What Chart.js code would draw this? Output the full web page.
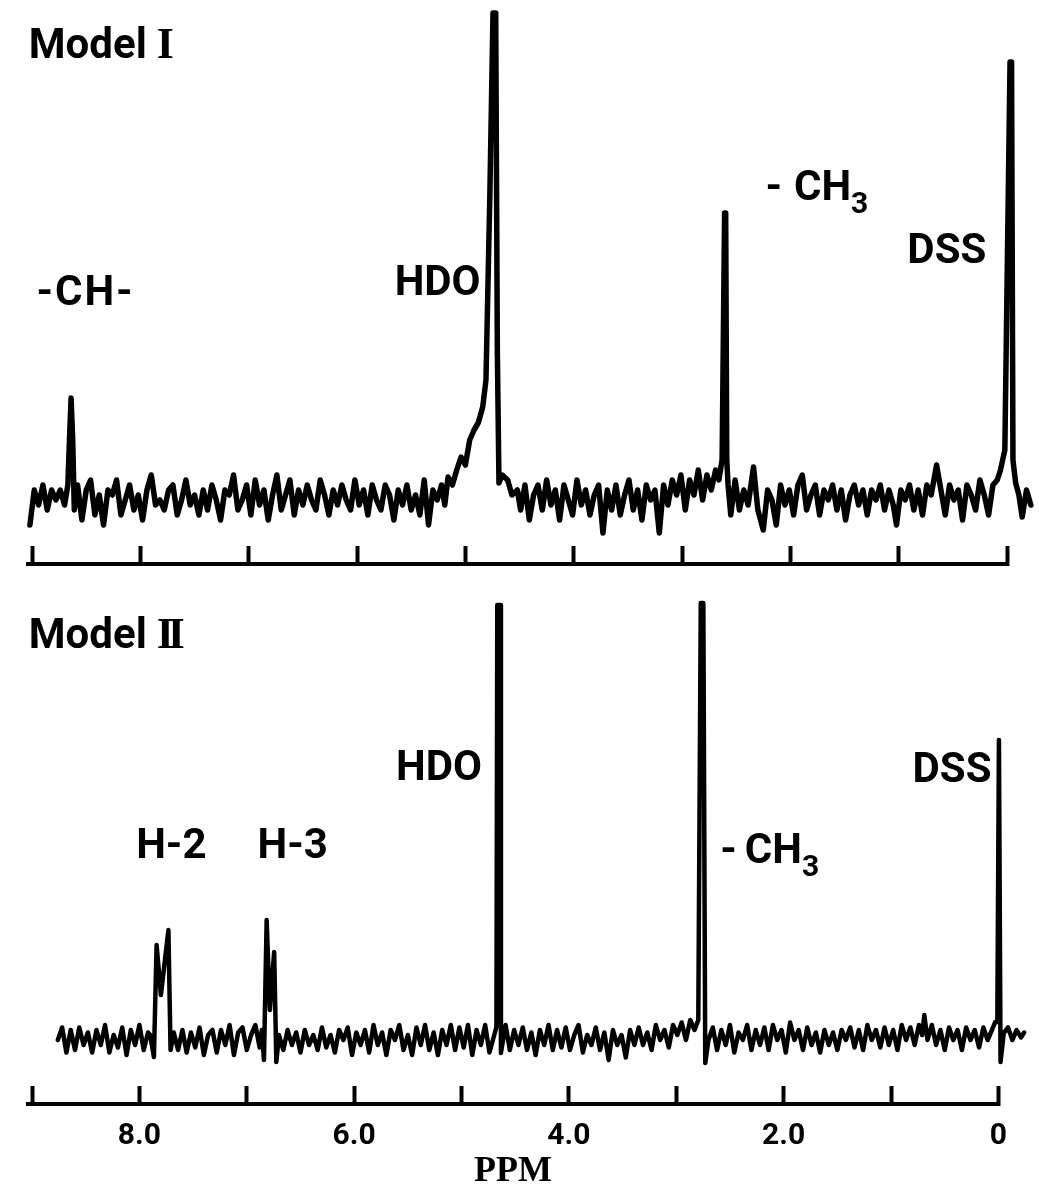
<!DOCTYPE html>
<html>
<head>
<meta charset="utf-8">
<script src="https://cdn.jsdelivr.net/npm/chart.js@4.4.1/dist/chart.umd.min.js"></script>
<style>
  html, body { margin: 0; padding: 0; background: #fff; }
  body { width: 1039px; height: 1191px; position: relative; overflow: hidden; }
  canvas { position: absolute; left: 0; }
  #modelI { top: 0; }
  #modelII { top: 590px; }
</style>
</head>
<body>
<canvas id="modelI" width="1039" height="604"></canvas>
<canvas id="modelII" width="1039" height="601"></canvas>
<script>
// 1H NMR traces in D2O: [chemical shift (ppm), relative intensity]
const spectrumModelI = [
  [9.02,-5],[8.98,2],[8.94,-1],[8.90,3],[8.86,-2],[8.82,2],[8.78,0],[8.74,2],[8.70,-1],[8.67,3],
  [8.655,12],[8.64,20.4],[8.625,12],[8.61,-2],[8.58,3],[8.54,-4],[8.50,2],[8.46,4],[8.42,-3],[8.38,1],
  [8.34,-5],[8.30,2],[8.26,1],[8.22,4],[8.18,-3],[8.14,0],[8.10,3],[8.06,-2],[8.02,1],[7.98,-4],
  [7.94,2],[7.90,5],[7.86,-1],[7.82,0],[7.78,-2],[7.74,2],[7.70,3],[7.66,-3],[7.62,0],[7.58,4],
  [7.54,-1],[7.50,1],[7.46,-3],[7.42,2],[7.38,-2],[7.34,3],[7.30,0],[7.26,-4],[7.22,2],[7.18,1],
  [7.14,5],[7.10,-2],[7.06,0],[7.02,3],[6.98,-3],[6.94,4],[6.90,-1],[6.86,2],[6.82,-4],[6.78,1],
  [6.74,5],[6.70,-2],[6.66,1],[6.62,4],[6.58,-3],[6.54,2],[6.50,-1],[6.46,3],[6.42,0],[6.38,-2],
  [6.34,4],[6.30,1],[6.26,-3],[6.22,2],[6.18,-1],[6.14,3],[6.10,0],[6.06,-2],[6.02,4],[5.98,-1],
  [5.94,2],[5.90,-3],[5.86,3],[5.82,0],[5.78,-2],[5.74,3],[5.70,1],[5.66,-4],[5.62,2],[5.58,-1],
  [5.54,3],[5.50,-2],[5.46,1],[5.42,-3],[5.38,4],[5.34,-5],[5.30,2],[5.26,0],[5.22,3],[5.19,-1],
  [5.16,4.6],[5.12,3],[5.08,6],[5.04,8.6],[5.00,7],[4.96,12],[4.92,14],[4.88,15.5],[4.84,18.6],[4.81,24],
  [4.775,60],[4.745,97.4],[4.72,97.4],[4.705,30],[4.69,3.4],[4.66,5],[4.61,4],[4.57,1],[4.52,2],[4.49,-2],
  [4.45,3],[4.41,-4],[4.37,1],[4.33,3],[4.29,-2],[4.25,4],[4.21,-1],[4.17,2],[4.13,-4],[4.09,3],
  [4.05,0],[4.01,-3],[3.97,4],[3.93,-1],[3.89,2],[3.85,-3],[3.81,1],[3.77,3],[3.73,-6.6],[3.69,2],
  [3.65,-2],[3.61,3],[3.57,-3],[3.53,1],[3.49,4],[3.45,-2],[3.41,2],[3.37,-4],[3.33,3],[3.29,0],
  [3.25,2],[3.21,-6.6],[3.17,3],[3.13,-1],[3.09,4],[3.05,1],[3.01,5],[2.97,-2],[2.93,4],[2.89,1],
  [2.85,6],[2.81,0],[2.77,5],[2.73,2],[2.69,6],[2.66,4],[2.63,8],[2.607,57.4],[2.597,57.4],[2.587,8],
  [2.575,3],[2.55,-3],[2.51,4],[2.47,-2],[2.43,2],[2.39,-1],[2.34,6.6],[2.30,-2],[2.25,-6],[2.21,2],
  [2.17,0],[2.13,-5],[2.09,3],[2.05,-1],[2.01,2],[1.97,-3],[1.93,3],[1.89,5],[1.85,-2],[1.81,1],
  [1.77,3],[1.73,-3],[1.69,2],[1.65,0],[1.61,3],[1.57,-2],[1.53,2],[1.49,-4],[1.45,1],[1.41,3],
  [1.37,-1],[1.33,2],[1.29,-3],[1.25,2],[1.21,0],[1.17,3],[1.13,-2],[1.09,2],[1.05,-1],[1.02,-5],
  [0.98,2],[0.94,0],[0.90,3],[0.86,-2],[0.82,2],[0.78,-3],[0.74,3],[0.70,1],[0.65,7],[0.61,2],
  [0.57,-3],[0.53,3],[0.49,0],[0.45,2],[0.41,-4],[0.37,3],[0.33,1],[0.29,-2],[0.25,4],[0.21,1],
  [0.17,-3],[0.13,3],[0.09,4],[0.06,6],[0.02,10],[-0.028,87.6],[-0.042,87.6],[-0.055,8],[-0.08,3.4],[-0.11,1],
  [-0.14,-3.4],[-0.18,2],[-0.22,-1]
];

const spectrumModelII = [
  [8.76,0],[8.72,2.5],[8.68,-2.5],[8.64,2],[8.60,-2],[8.56,2.5],[8.52,-1],[8.48,1.5],[8.44,-2.5],[8.40,2],
  [8.36,-1],[8.32,3],[8.28,-2.5],[8.24,1],[8.20,-1.5],[8.16,2.5],[8.12,-3],[8.08,2],[8.04,-1],[8.00,3],
  [7.96,-2],[7.92,1.5],[7.90,1],[7.865,-3.4],[7.84,19],[7.80,9],[7.73,22],[7.71,-2],[7.68,1.5],[7.64,-2],
  [7.60,2],[7.56,-2.5],[7.52,1.5],[7.48,-1.5],[7.44,2.5],[7.40,-3],[7.36,1],[7.32,2],[7.28,-2.5],[7.24,2],
  [7.20,-1],[7.16,3],[7.12,-3],[7.08,1.5],[7.04,2.5],[7.00,-2],[6.96,1],[6.92,3],[6.88,-1.5],[6.86,2],
  [6.84,-4],[6.815,24],[6.785,6],[6.745,17.6],[6.725,-4.4],[6.70,1],[6.66,-2],[6.62,2],[6.58,-1],[6.54,1.5],
  [6.50,-2.5],[6.46,2],[6.42,-1],[6.38,1],[6.34,-2],[6.30,2.5],[6.26,-1.5],[6.22,1],[6.18,-2.5],[6.14,2],
  [6.10,0],[6.06,2.5],[6.02,-3],[5.98,1.5],[5.94,-1],[5.90,2],[5.86,-2.5],[5.82,3],[5.78,-1],[5.74,1.5],
  [5.70,-3],[5.66,2],[5.62,0],[5.58,3],[5.54,-2],[5.50,1],[5.46,-3],[5.42,2.5],[5.38,-1],[5.34,3],
  [5.30,-2],[5.26,1.5],[5.22,-3],[5.18,2],[5.14,-1],[5.10,3],[5.06,-2],[5.02,2.5],[4.98,-1.5],[4.94,3],
  [4.90,-3],[4.86,2],[4.82,-1],[4.78,3],[4.74,-2.5],[4.675,2.6],[4.667,87],[4.64,87],[4.633,-2.6],[4.59,3],
  [4.55,-2],[4.51,2],[4.47,-1],[4.43,2.5],[4.39,-2],[4.35,1.5],[4.31,-3],[4.27,2],[4.23,-1],[4.19,3],
  [4.15,-2],[4.11,2],[4.07,-1.5],[4.03,2.5],[3.99,-2],[3.95,1],[3.91,3],[3.87,-2.5],[3.83,1],[3.79,-1],
  [3.75,2.5],[3.71,-2],[3.67,1.5],[3.63,-4],[3.59,2],[3.55,-1],[3.51,1],[3.47,-3.5],[3.43,2],[3.39,-1],
  [3.35,2.5],[3.31,-1],[3.27,1.5],[3.23,-2],[3.19,3],[3.15,0],[3.11,2],[3.07,-1.5],[3.03,3],[2.99,1],
  [2.95,3.5],[2.91,0],[2.87,4],[2.83,2],[2.795,4],[2.772,87.4],[2.748,87.4],[2.73,-4.6],[2.70,0],[2.66,2.5],
  [2.62,-2],[2.58,2],[2.54,-1],[2.50,3],[2.46,-2.5],[2.42,1.5],[2.38,0],[2.34,3],[2.30,-2],[2.26,2],
  [2.22,-1],[2.18,2.5],[2.14,-2],[2.10,3],[2.06,0],[2.02,2],[1.98,-2.5],[1.94,3.5],[1.90,0],[1.86,2],
  [1.82,-2],[1.78,2.5],[1.74,-1],[1.70,1.5],[1.66,-2.5],[1.62,2],[1.58,-1],[1.54,1.5],[1.50,-2],[1.46,2],
  [1.42,0],[1.38,2.5],[1.34,-1.5],[1.30,2],[1.26,-2],[1.22,3],[1.18,0],[1.14,2],[1.10,-1.5],[1.06,2.5],
  [1.02,-1],[0.98,2],[0.94,-2],[0.90,3],[0.86,0],[0.82,2.5],[0.78,-1],[0.74,3],[0.71,1],[0.69,5],
  [0.66,0],[0.62,3],[0.58,-1],[0.54,2],[0.50,-2],[0.46,2.5],[0.42,0],[0.38,2],[0.34,-2],[0.30,2.5],
  [0.26,0],[0.22,2],[0.18,-1.5],[0.14,2.5],[0.10,0],[0.06,2],[0.03,3.6],[0.01,3.6],[-0.005,60],[-0.02,-4.4],
  [-0.05,1.4],[-0.09,2.5],[-0.13,0],[-0.17,2],[-0.21,0.5],[-0.24,1.5]
];

// ppm scale: a tick every 1 ppm, labelled every 2 ppm on the lower trace
const tickValues = [9, 8, 7, 6, 5, 4, 3, 2, 1, 0];
const tickLabelsModelII = ['', '8.0', '', '6.0', '', '4.0', '', '2.0', '', '0'];
const axisTitle = 'PPM';

const SANS = 'bold 42px Roboto, "Open Sans", sans-serif';
const SANS_SUB = 'bold 30px Roboto, "Open Sans", sans-serif';
const SERIF = 'bold 44px "Liberation Serif", "DejaVu Serif", serif';

// Peak assignments, anchored in (ppm, intensity) units
const annotationsModelI = [
  { ppm: 9.03, level: 88.4, parts: [{ text: 'Model', font: SANS, dx: 10 }, { text: 'I', font: SERIF }] },
  { ppm: 8.96, level: 39, parts: [{ text: '-CH-', font: SANS, spacing: '2px' }] },
  { ppm: 4.86, level: 41, align: 'right', parts: [{ text: 'HDO', font: SANS }] },
  { ppm: 2.23, level: 60, parts: [{ text: '-', font: SANS, dx: 12 }, { text: 'CH', font: SANS }, { text: '3', font: SANS_SUB, dy: 13 }] },
  { ppm: 0.92, level: 47.4, parts: [{ text: 'DSS', font: SANS }] }
];
const annotationsModelII = [
  { ppm: 9.03, level: 78.4, parts: [{ text: 'Model', font: SANS, dx: 10 }, { text: 'II', font: SERIF, spacing: '-6px' }] },
  { ppm: 4.81, level: 52, align: 'right', parts: [{ text: 'HDO', font: SANS }] },
  { ppm: 8.03, level: 36.4, parts: [{ text: 'H-2', font: SANS }] },
  { ppm: 6.90, level: 36.4, parts: [{ text: 'H-3', font: SANS }] },
  { ppm: 2.59, level: 35.4, parts: [{ text: '-', font: SANS, dx: 8 }, { text: 'CH', font: SANS }, { text: '3', font: SANS_SUB, dy: 13 }] },
  { ppm: 0.80, level: 51.6, parts: [{ text: 'DSS', font: SANS }] }
];

const peakLabels = {
  id: 'peakLabels',
  afterDatasetsDraw(chart, args, opts) {
    const { ctx } = chart;
    const x = chart.scales.x, y = chart.scales.y;
    ctx.save();
    ctx.fillStyle = '#000';
    ctx.textBaseline = 'alphabetic';
    ctx.textAlign = 'left';
    for (const item of opts.items) {
      let px = x.getPixelForValue(item.ppm);
      const py = y.getPixelForValue(item.level);
      if (item.align === 'right') {
        let w = 0;
        for (const p of item.parts) {
          ctx.font = p.font;
          ctx.letterSpacing = p.spacing || '0px';
          w += ctx.measureText(p.text).width + (p.dx || 0);
        }
        px -= w;
      }
      for (const p of item.parts) {
        ctx.font = p.font;
        ctx.letterSpacing = p.spacing || '0px';
        ctx.fillText(p.text, px, py + (p.dy || 0));
        px += ctx.measureText(p.text).width + (p.dx || 0);
      }
    }
    ctx.letterSpacing = '0px';
    ctx.restore();
  }
};

function buildSpectrum(canvasId, spectrum, opts) {
  return new Chart(document.getElementById(canvasId), {
    type: 'line',
    data: {
      datasets: [{
        data: spectrum.map(([ppm, v]) => ({ x: ppm, y: v })),
        borderColor: '#000',
        borderWidth: opts.lineWidth,
        borderJoinStyle: 'round',
        borderCapStyle: 'round',
        pointRadius: 0,
        tension: 0,
        clip: false
      }]
    },
    options: {
      responsive: false,
      animation: false,
      events: [],
      layout: { padding: opts.padding },
      plugins: {
        legend: { display: false },
        tooltip: { enabled: false },
        peakLabels: { items: opts.annotations }
      },
      scales: {
        x: {
          type: 'linear',
          min: 0,
          max: 9.04,
          reverse: true,
          afterBuildTicks: s => { s.ticks = tickValues.map(v => ({ value: v })); },
          afterFit: s => { s.height = opts.axisHeight; },
          border: { display: true, color: '#000', width: 4 },
          grid: {
            drawOnChartArea: false,
            drawTicks: true,
            tickLength: -18,
            tickWidth: 4,
            tickColor: '#000'
          },
          ticks: {
            autoSkip: false,
            maxRotation: 0,
            padding: 32,
            color: '#000',
            font: { family: 'Roboto', weight: 'bold', size: 30 },
            callback: (v, i) => opts.tickLabels ? opts.tickLabels[i] : ''
          },
          title: opts.title ? {
            display: true,
            text: opts.title,
            color: '#000',
            font: { family: '"Liberation Serif", serif', weight: 'bold', size: 36, lineHeight: 1 },
            padding: { top: 0, bottom: 1 }
          } : { display: false }
        },
        y: {
          display: false,
          min: -12.8,
          max: opts.yMax
        }
      }
    },
    plugins: [peakLabels]
  });
}

buildSpectrum('modelI', spectrumModelI, {
  lineWidth: 5.5,
  padding: { left: 23, right: 28, top: 0, bottom: 0 },
  axisHeight: 40,
  yMax: 100,
  annotations: annotationsModelI
});

buildSpectrum('modelII', spectrumModelII, {
  lineWidth: 4.5,
  padding: { left: 20, right: 31, top: 0, bottom: 0 },
  axisHeight: 87,
  yMax: 90,
  tickLabels: tickLabelsModelII,
  title: axisTitle,
  annotations: annotationsModelII
});
</script>
</body>
</html>
